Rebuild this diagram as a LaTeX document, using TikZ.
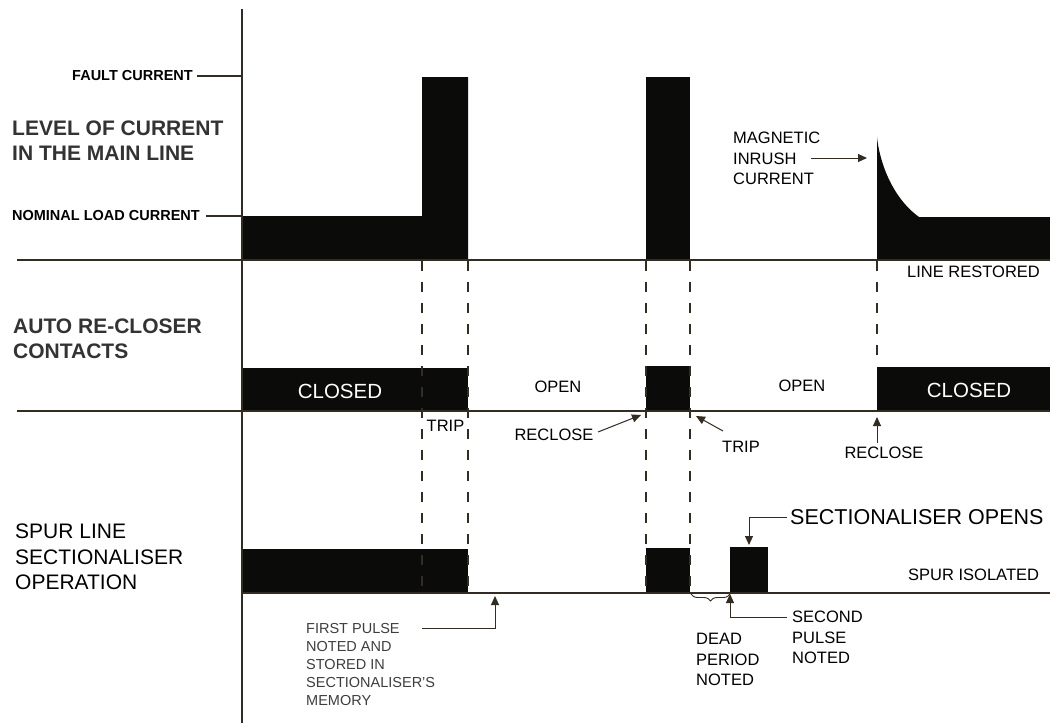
\documentclass[tikz,border=0pt]{standalone}
\usepackage{fontspec}
\setmainfont{Liberation Sans}
\usetikzlibrary{arrows.meta,decorations.pathreplacing}
\definecolor{ink}{RGB}{11,12,10}
\definecolor{rule}{RGB}{50,44,34}
\definecolor{labgray}{RGB}{51,51,51}
\definecolor{notegray}{RGB}{62,62,62}
\newcommand{\fsz}[2]{\fontsize{#1}{#2}\selectfont}
\begin{document}
\begin{tikzpicture}[x=1pt,y=-1pt,
  axisline/.style={draw=rule,line width=1.4pt},
  guide/.style={draw=rule,line width=1.5pt,dash pattern=on 10pt off 11pt},
  blk/.style={fill=ink,draw=none},
  txt/.style={inner sep=0pt,text=black,align=left},
  bigb/.style={txt,text=labgray,font=\bfseries\fsz{21}{25}},
  bigr/.style={txt,font=\fsz{21}{25.5}},
  smb/.style={txt,font=\bfseries\fsz{14.5}{17}},
  midt/.style={txt,font=\fsz{16.5}{20.5}},
  bart/.style={txt,text=white,font=\fsz{20.5}{24}},
  notet/.style={txt,text=notegray,font=\fsz{14.5}{18}},
  arr/.style={draw=rule,line width=1pt,-{Triangle[length=9pt,width=8pt]}},
  brc/.style={draw=rule,line width=0.9pt,decorate,decoration={brace,mirror,amplitude=7pt}}
]
\useasboundingbox (0,0) rectangle (1050,723);
\fill[white] (0,0) rectangle (1050,723);

% ---------- main line current ----------
\fill[blk] (242,260) -- (242,216) -- (422,216) -- (422,77) -- (468,77) -- (468,260) -- cycle;
\fill[blk] (646,77) rectangle (690,260);
\fill[blk] (877,260) -- (877,137) .. controls (879,158) and (890,196) .. (919,217) -- (1050,217) -- (1050,260) -- cycle;

% ---------- recloser contacts ----------
\fill[blk] (242,368) rectangle (468,411);
\fill[blk] (646,366) rectangle (690,411);
\fill[blk] (877,367) rectangle (1050,411);

% ---------- sectionaliser ----------
\fill[blk] (242,549) rectangle (468,593);
\fill[blk] (646,548) rectangle (690,593);
\fill[blk] (730,547) rectangle (768,593);

% ---------- dashed guides ----------
\draw[guide] (422,261) -- (422,593);
\draw[guide] (468,261) -- (468,593);
\draw[guide] (646,261) -- (646,593);
\draw[guide] (690,261) -- (690,593);
\draw[guide] (877,261) -- (877,366);

% ---------- axes ----------
\coordinate (axTop) at (242,9);
\coordinate (axBot) at (242,723);
\draw[axisline] (axTop) -- (axBot);
\draw[axisline] (17,260) -- (1050,260);
\draw[axisline] (17,411) -- (1050,411);
\draw[axisline] (242,593) -- (1050,593);

% ---------- left labels ----------
\node[bigb,anchor=north west] (lvl) at (12,121) {LEVEL OF CURRENT\\IN THE MAIN LINE};
\node[bigb,anchor=north west] (arc) at (13,319) {AUTO RE-CLOSER\\CONTACTS};
\node[bigr,anchor=north west] (spur) at (15,524) {SPUR LINE\\SECTIONALISER\\OPERATION};

\node[smb,anchor=east] (fault) at (193,76) {FAULT CURRENT};
\node[smb,anchor=east] (nom) at (200,216) {NOMINAL LOAD CURRENT};
\coordinate (axF) at (242,76);
\coordinate (axN) at (242,216);
\draw[axisline] ([xshift=4pt]fault.east) -- (axF);
\draw[axisline] ([xshift=6pt]nom.east) -- (axN);

% ---------- main line labels ----------
\node[midt,anchor=north west] (mag) at (733,132) {MAGNETIC\\INRUSH\\CURRENT};
\coordinate (magA) at (811,158);
\coordinate (magTip) at (867,158);
\draw[arr] (magA) -- (magTip);
\node[midt,anchor=west] (lr) at (907,272) {LINE RESTORED};

% ---------- recloser labels ----------
\node[bart] (cl1) at (340,391.5) {CLOSED};
\node[bart] (cl2) at (969,390.5) {CLOSED};
\node[midt] (op1) at (558,387) {OPEN};
\node[midt] (op2) at (802,385.5) {OPEN};
\node[midt] (tr1) at (445.5,426) {TRIP};
\node[midt] (rc1) at (554,434.5) {RECLOSE};
\node[midt] (tr2) at (741,447) {TRIP};
\node[midt] (rc2) at (884,453) {RECLOSE};
\coordinate (rc1A) at (598,432);
\coordinate (rc1Tip) at (641,415);
\draw[arr] (rc1A) -- (rc1Tip);
\coordinate (tr2A) at (723,431);
\coordinate (tr2Tip) at (696,416);
\draw[arr] (tr2A) -- (tr2Tip);
\coordinate (rc2A) at (877,443);
\coordinate (rc2Tip) at (877,417);
\draw[arr] (rc2A) -- (rc2Tip);

% ---------- sectionaliser labels ----------
\node[txt,anchor=west,font=\fsz{21.5}{25}] (sop) at (790,517) {SECTIONALISER OPENS};
\coordinate (sopTip) at (749,545);
\draw[arr] ([xshift=-3pt]sop.west) -| (sopTip);
\node[midt,anchor=west] (iso) at (908,575) {SPUR ISOLATED};

\node[notet,anchor=north west] (fp) at (306,623) {FIRST PULSE\\NOTED AND\\STORED IN\\SECTIONALISER'S\\MEMORY};
\coordinate (fpA) at (422,628);
\coordinate (fpTip) at (495,596);
\draw[arr] (fpA) -| (fpTip);

\node[midt,anchor=north west] (dp) at (696,633) {DEAD\\PERIOD\\NOTED};
\coordinate (brA) at (691,594);
\coordinate (brB) at (730,594);
\draw[brc] (brA) -- (brB);

\node[midt,anchor=north west] (sp) at (792,611) {SECOND\\PULSE\\NOTED};
\coordinate (spA) at (787,617);
\coordinate (spTip) at (730,594);
\draw[arr] (spA) -| (spTip);
\end{tikzpicture}
\end{document}
